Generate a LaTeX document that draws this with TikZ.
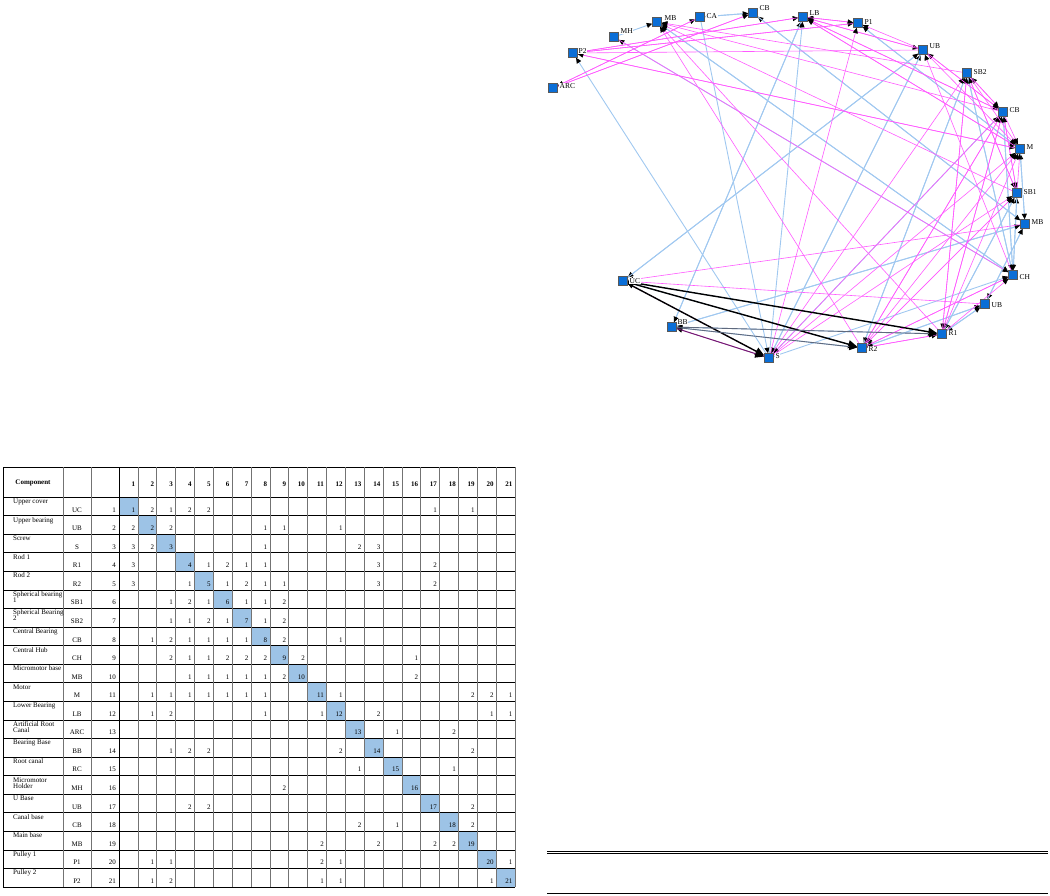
\documentclass[tikz,border=0pt]{standalone}
\usepackage{fontspec}
\setmainfont{Liberation Serif}
\usetikzlibrary{arrows.meta}
\definecolor{pinkE}{RGB}{255,90,255}
\definecolor{blueE}{RGB}{160,200,240}
\definecolor{sqfill}{RGB}{10,110,215}
\definecolor{diagfill}{RGB}{157,195,230}
\definecolor{purpE}{RGB}{110,30,110}
\definecolor{slateE}{RGB}{95,105,125}
\begin{document}
\begin{tikzpicture}[x=1pt,y=-1pt,
  comp/.style={draw=black!65,fill=sqfill,minimum size=9pt,inner sep=0pt,line width=0.5pt},
  lab/.style={font=\fontsize{7.5}{8}\selectfont,inner sep=0.5pt,fill=white,anchor=west},
  epink/.style={pinkE,line width=0.6pt,-{Triangle[length=5.5pt,width=5pt,color=black,fill=black]}},
  eblue/.style={blueE,line width=0.9pt,-{Triangle[length=5.5pt,width=5pt,color=black,fill=black]}},
  eblack/.style={black,line width=1.4pt,-{Triangle[length=9pt,width=8pt,color=black,fill=black]}},
  ebbs/.style={purpE,line width=1pt,-{Triangle[length=9pt,width=8pt,color=black,fill=black]}},
  ebbr/.style={slateE,line width=0.9pt,-{Triangle[length=8pt,width=7pt,color=black,fill=black]}},
  cellnum/.style={font=\fontsize{7}{8}\selectfont,inner sep=0pt,anchor=base east},
  rowname/.style={font=\fontsize{7}{7}\selectfont,inner sep=0pt,anchor=base west},
  hrule/.style={black,line width=0.6pt},
  vrule/.style={black!55,line width=0.6pt}
]
\useasboundingbox (0,0) rectangle (1050,895);

% ---------------- graph nodes ----------------
\node[comp] (n1) at (623,281) {};
\node[comp] (n2) at (923,50) {};
\node[comp] (n3) at (769,358) {};
\node[comp] (n4) at (942,334) {};
\node[comp] (n5) at (862,348) {};
\node[comp] (n6) at (1017,193) {};
\node[comp] (n7) at (967,73) {};
\node[comp] (n8) at (1003,112) {};
\node[comp] (n9) at (1013,275) {};
\node[comp] (n10) at (657,22) {};
\node[comp] (n11) at (1020,149) {};
\node[comp] (n12) at (803,17) {};
\node[comp] (n13) at (700,17) {};
\node[comp] (n14) at (672,327) {};
\node[comp] (n15) at (553,88) {};
\node[comp] (n16) at (614,37) {};
\node[comp] (n17) at (985,304) {};
\node[comp] (n18) at (753,13) {};
\node[comp] (n19) at (1025,224) {};
\node[comp] (n20) at (858,23) {};
\node[comp] (n21) at (573,53) {};

% ---------------- connectors ----------------
\foreach \i/\j in {1/2,1/4,1/5,2/1,2/3,3/2,3/13,4/6,4/17,5/7,5/17,6/4,6/9,7/5,7/9,8/3,8/9,9/3,9/6,9/7,9/8,9/10,10/9,10/16,11/19,11/20,12/3,12/14,13/18,14/4,14/5,14/12,14/19,16/9,17/4,17/5,17/19,18/13,18/19,19/11,19/14,19/17,19/18,20/11,21/3}
  {\draw[eblue] (n\j) -- (n\i);}
\foreach \i/\j in {1/3,1/17,1/19,2/8,2/9,2/12,3/8,4/5,4/7,4/8,5/4,5/6,5/8,5/9,6/3,6/5,6/7,6/8,7/3,7/4,7/6,7/8,8/2,8/4,8/5,8/6,8/7,8/12,9/4,9/5,9/16,10/4,10/5,10/6,10/7,10/8,11/2,11/3,11/4,11/5,11/6,11/7,11/8,11/12,11/21,12/2,12/8,12/11,12/20,12/21,13/15,14/3,15/13,15/18,18/15,20/2,20/3,20/12,20/21,21/2,21/11,21/12,21/20}
  {\draw[epink] (n\j) -- (n\i);}
\foreach \i/\j in {3/1,4/1,5/1}
  {\draw[eblack] (n\j) -- (n\i);}
\draw[ebbs] (n14) -- (n3);
\draw[ebbr] (n14) -- (n4);
\draw[ebbr] (n14) -- (n5);

% redraw squares on top
\foreach \k in {1,...,21} {\node[comp] at (n\k) {};}

% ---------------- node labels ----------------
\node[lab] (l1) at (629,281) {UC};
\node[lab] (l2) at (929,46) {UB};
\node[lab] (l3) at (775,356) {S};
\node[lab] (l4) at (948,333) {R1};
\node[lab] (l5) at (868,349) {R2};
\node[lab] (l6) at (1023,192) {SB1};
\node[lab] (l7) at (973,72) {SB2};
\node[lab] (l8) at (1009,110) {CB};
\node[lab] (l9) at (1019,277) {CH};
\node[lab] (l10) at (664,18) {MB};
\node[lab] (l11) at (1026,147) {M};
\node[lab] (l12) at (809,13) {LB};
\node[lab] (l13) at (706,16) {CA};
\node[lab] (l14) at (677,322) {BB};
\node[lab] (l15) at (559,86) {ARC};
\node[lab] (l16) at (620,31) {MH};
\node[lab] (l17) at (991,305) {UB};
\node[lab] (l18) at (759,8) {CB};
\node[lab] (l19) at (1031,222) {MB};
\node[lab] (l20) at (864,22) {P1};
\node[lab] (l21) at (578,51) {P2};

% ---------------- rules at bottom right ----------------
\draw[line width=0.8pt] (547,851) -- (1048,851);
\draw[line width=0.8pt] (547,853.6) -- (1048,853.6);
\draw[line width=0.8pt] (547,893) -- (1048,893);

% ---------------- DSM table ----------------
\foreach \r in {1,...,21} {
  \pgfmathsetmacro\xl{119+(\r-1)*18.86}
  \pgfmathsetmacro\yt{497+(\r-1)*18.57}
  \fill[diagfill] (\xl,\yt) rectangle ++(18.86,18.57);
}
\draw[hrule] (3,467) -- (515,467);
\foreach \r in {0,...,21} {
  \pgfmathsetmacro\yy{497+\r*18.57}
  \draw[hrule] (3,\yy) -- (515,\yy);
}
\foreach \xx in {63,91} {\draw[vrule] (\xx,467) -- (\xx,887);}
\draw[black,line width=0.7pt] (3,467) -- (3,887);
\draw[black,line width=0.7pt] (119,467) -- (119,887);
\foreach \k in {1,...,21} {
  \pgfmathsetmacro\xx{119+\k*18.86}
  \draw[vrule] (\xx,467) -- (\xx,887);
}
\node[font=\fontsize{7}{8}\selectfont\bfseries,inner sep=0pt] (hc) at (33,483) {Component};
\foreach \k in {1,...,21} {
  \pgfmathsetmacro\xx{119+\k*18.86-2.5}
  \node[cellnum,font=\fontsize{7}{8}\selectfont\bfseries] at (\xx,486) {\k};
}
\foreach \r/\nm/\nmb/\ab in {1/{Upper cover}//UC,2/{Upper bearing}//UB,3/{Screw}//S,4/{Rod 1}//R1,5/{Rod 2}//R2,
  6/{Spherical bearing}/1/SB1,7/{Spherical Bearing}/2/SB2,8/{Central Bearing}//CB,9/{Central Hub}//CH,
  10/{Micromotor base}//MB,11/{Motor}//M,12/{Lower Bearing}//LB,13/{Artificial Root}/Canal/ARC,
  14/{Bearing Base}//BB,15/{Root canal}//RC,16/{Micromotor}/Holder/MH,17/{U Base}//UB,18/{Canal base}//CB,
  19/{Main base}//MB,20/{Pulley 1}//P1,21/{Pulley 2}//P2} {
  \pgfmathsetmacro\yt{497+(\r-1)*18.57}
  \node[rowname] at (13,\yt+6.5) {\nm};
  \node[rowname] at (13,\yt+12.5) {\nmb};
  \node[cellnum,anchor=base] at (77,\yt+15) {\ab};
  \node[cellnum] at (116,\yt+15) {\r};
}
\foreach \r in {1,...,21} {
  \pgfmathsetmacro\xx{119+\r*18.86-2.5}
  \pgfmathsetmacro\yt{497+(\r-1)*18.57}
  \node[cellnum] at (\xx,\yt+15) {\r};
}
\foreach \r/\cells in {
  1/{2/2,3/1,4/2,5/2,17/1,19/1},
  2/{1/2,3/2,8/1,9/1,12/1},
  3/{1/3,2/2,8/1,13/2,14/3},
  4/{1/3,5/1,6/2,7/1,8/1,14/3,17/2},
  5/{1/3,4/1,6/1,7/2,8/1,9/1,14/3,17/2},
  6/{3/1,4/2,5/1,7/1,8/1,9/2},
  7/{3/1,4/1,5/2,6/1,8/1,9/2},
  8/{2/1,3/2,4/1,5/1,6/1,7/1,9/2,12/1},
  9/{3/2,4/1,5/1,6/2,7/2,8/2,10/2,16/1},
  10/{4/1,5/1,6/1,7/1,8/1,9/2,16/2},
  11/{2/1,3/1,4/1,5/1,6/1,7/1,8/1,12/1,19/2,20/2,21/1},
  12/{2/1,3/2,8/1,11/1,14/2,20/1,21/1},
  13/{15/1,18/2},
  14/{3/1,4/2,5/2,12/2,19/2},
  15/{13/1,18/1},
  16/{9/2},
  17/{4/2,5/2,19/2},
  18/{13/2,15/1,19/2},
  19/{11/2,14/2,17/2,18/2},
  20/{2/1,3/1,11/2,12/1,21/1},
  21/{2/1,3/2,11/1,12/1,20/1}} {
  \foreach \c/\v in \cells {
    \pgfmathsetmacro\xx{119+\c*18.86-2.5}
    \pgfmathsetmacro\yy{497+(\r-1)*18.57+15}
    \node[cellnum] at (\xx,\yy) {\v};
  }
}
\end{tikzpicture}
\end{document}
